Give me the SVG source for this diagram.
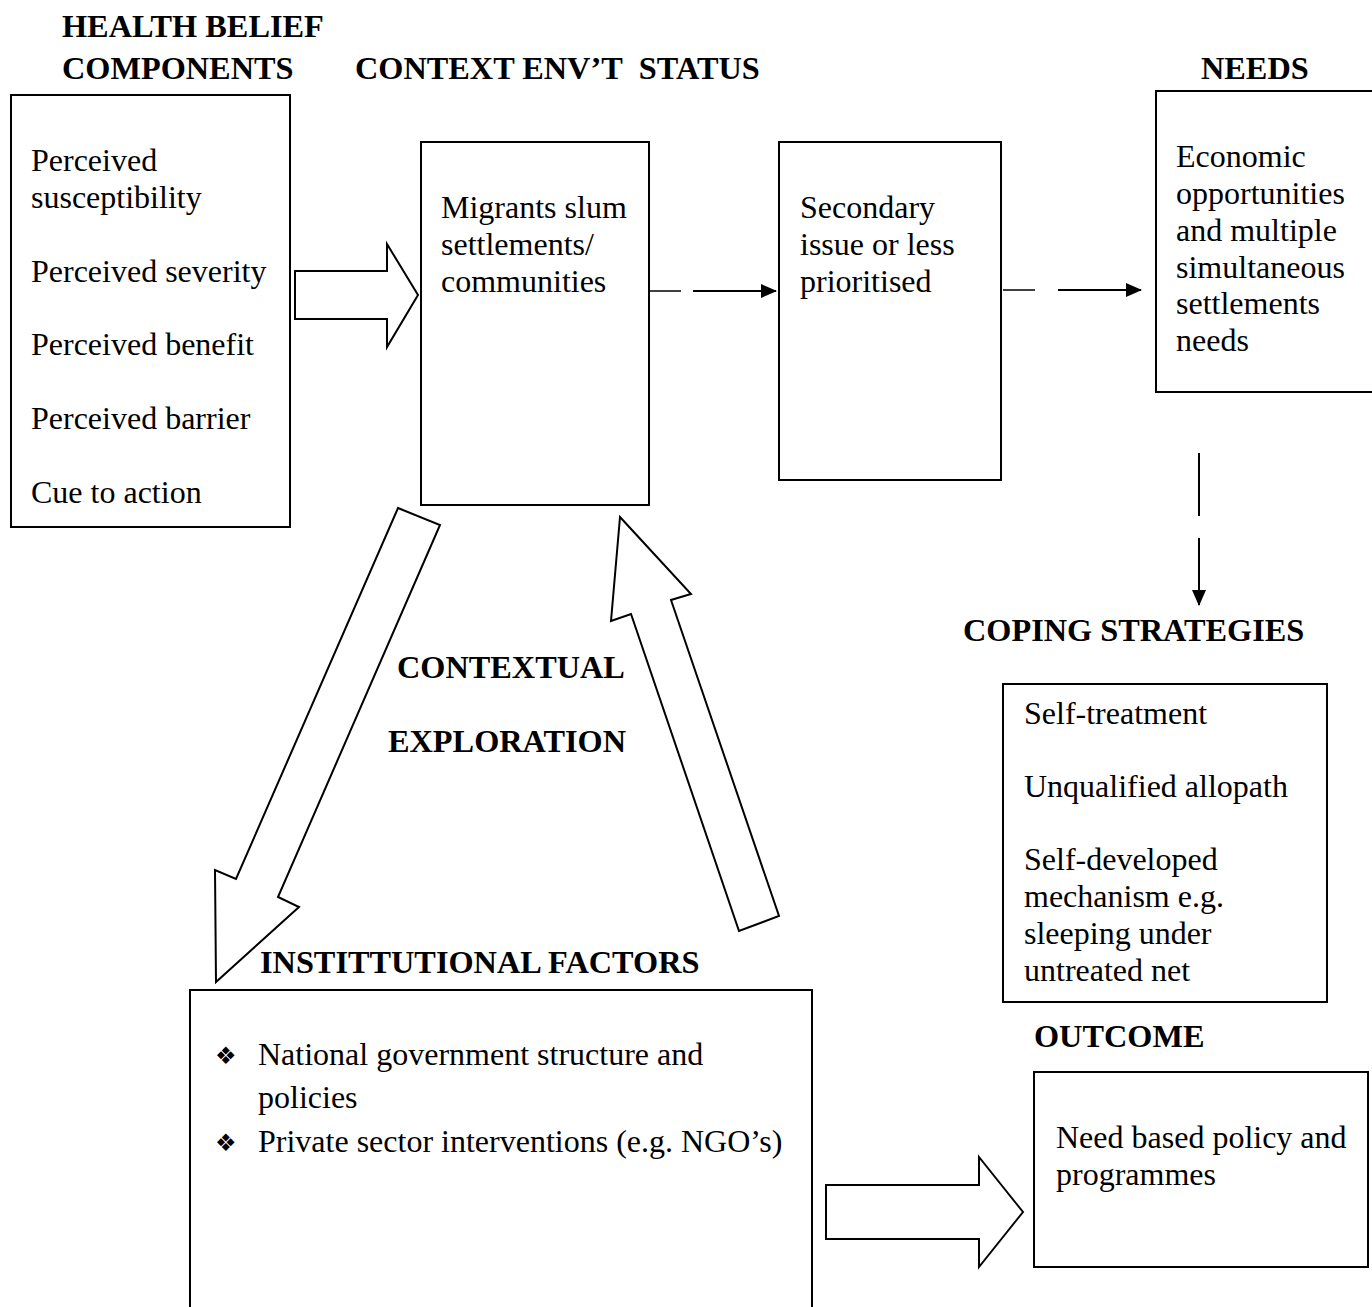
<svg xmlns="http://www.w3.org/2000/svg" width="1372" height="1307" viewBox="0 0 1372 1307">
<style>
.t{font-family:"Liberation Serif","Times New Roman",serif;font-size:32px;fill:#000}
.b{font-family:"Liberation Serif","Times New Roman",serif;font-size:32.3px;font-weight:bold;fill:#000}
.box{fill:#fff;stroke:#000;stroke-width:2}
.blk{fill:#fff;stroke:#000;stroke-width:2;stroke-linejoin:miter}
.ln{stroke:#000;stroke-width:2;fill:none}
.bul{font-family:"DejaVu Sans",sans-serif;font-size:24px;fill:#000}
</style>
<defs>
<marker id="ah" markerWidth="16" markerHeight="14" refX="15" refY="7" orient="auto" markerUnits="userSpaceOnUse">
<path d="M0,0 L16,7 L0,14 Z" fill="#000"/>
</marker>
</defs>
<rect width="1372" height="1307" fill="#fff"/>

<g id="headings">
<text class="b" x="62" y="37">HEALTH BELIEF</text>
<text class="b" x="62" y="79">COMPONENTS</text>
<text class="b" x="355" y="79">CONTEXT ENV’T&#160; STATUS</text>
<text class="b" x="1201" y="79">NEEDS</text>
<text class="b" x="963" y="641">COPING STRATEGIES</text>
<text class="b" x="1034" y="1047">OUTCOME</text>
<text class="b" x="397" y="678">CONTEXTUAL</text>
<text class="b" x="388" y="752">EXPLORATION</text>
<text class="b" x="260" y="973">INSTITTUTIONAL FACTORS</text>
</g>

<g id="health-belief">
<rect class="box" x="11" y="95" width="279" height="432"/>
<text class="t" x="31" y="171">Perceived</text>
<text class="t" x="31" y="208">susceptibility</text>
<text class="t" x="31" y="282">Perceived severity</text>
<text class="t" x="31" y="355">Perceived benefit</text>
<text class="t" x="31" y="429">Perceived barrier</text>
<text class="t" x="31" y="503">Cue to action</text>
</g>

<g id="migrants">
<rect class="box" x="421" y="142" width="228" height="363"/>
<text class="t" x="441" y="218">Migrants slum</text>
<text class="t" x="441" y="255">settlements/</text>
<text class="t" x="441" y="292">communities</text>
</g>

<g id="secondary">
<rect class="box" x="779" y="142" width="222" height="338"/>
<text class="t" x="800" y="218">Secondary</text>
<text class="t" x="800" y="255">issue or less</text>
<text class="t" x="800" y="292">prioritised</text>
</g>

<g id="needs">
<rect class="box" x="1156" y="91" width="222" height="301"/>
<text class="t" x="1176" y="167">Economic</text>
<text class="t" x="1176" y="204">opportunities</text>
<text class="t" x="1176" y="241">and multiple</text>
<text class="t" x="1176" y="278">simultaneous</text>
<text class="t" x="1176" y="314">settlements</text>
<text class="t" x="1176" y="351">needs</text>
</g>

<g id="coping">
<rect class="box" x="1003" y="684" width="324" height="318"/>
<text class="t" x="1024" y="724">Self-treatment</text>
<text class="t" x="1024" y="797">Unqualified allopath</text>
<text class="t" x="1024" y="870">Self-developed</text>
<text class="t" x="1024" y="907">mechanism e.g.</text>
<text class="t" x="1024" y="944">sleeping under</text>
<text class="t" x="1024" y="981">untreated net</text>
</g>

<g id="outcome">
<rect class="box" x="1034" y="1072" width="334" height="195"/>
<text class="t" x="1056" y="1148">Need based policy and</text>
<text class="t" x="1056" y="1185">programmes</text>
</g>

<g id="institutional">
<path class="ln" d="M190,1307 L190,990 L812,990 L812,1307" stroke="#222"/>
<text class="bul" x="215" y="1064">❖</text>
<text class="t" x="258" y="1065">National government structure and</text>
<text class="t" x="258" y="1108">policies</text>
<text class="bul" x="215" y="1151">❖</text>
<text class="t" x="258" y="1152">Private sector interventions (e.g. NGO’s)</text>
</g>

<g id="connectors">
<polygon class="blk" points="295,271 387,271 387,244 418,295 387,347 387,319 295,319"/>
<line x1="649" y1="291" x2="681" y2="291" stroke="#000" stroke-width="1.5"/>
<line class="ln" x1="693" y1="291" x2="776" y2="291" marker-end="url(#ah)"/>
<line x1="1003" y1="290" x2="1035" y2="290" stroke="#000" stroke-width="1.5"/>
<line class="ln" x1="1058" y1="290" x2="1141" y2="290" marker-end="url(#ah)"/>
<line class="ln" x1="1199" y1="453" x2="1199" y2="516"/>
<line class="ln" x1="1199" y1="538" x2="1199" y2="605" marker-end="url(#ah)"/>
<polygon class="blk" points="398,508 440,525 278,897 299,907 216,982 215,870 236,879"/>
<polygon class="blk" points="620,517 691,594 671,600 779,916 739,931 631,614 611,621"/>
<polygon class="blk" points="826,1185 979,1185 979,1157 1023,1212 979,1267 979,1239 826,1239"/>
</g>
</svg>
